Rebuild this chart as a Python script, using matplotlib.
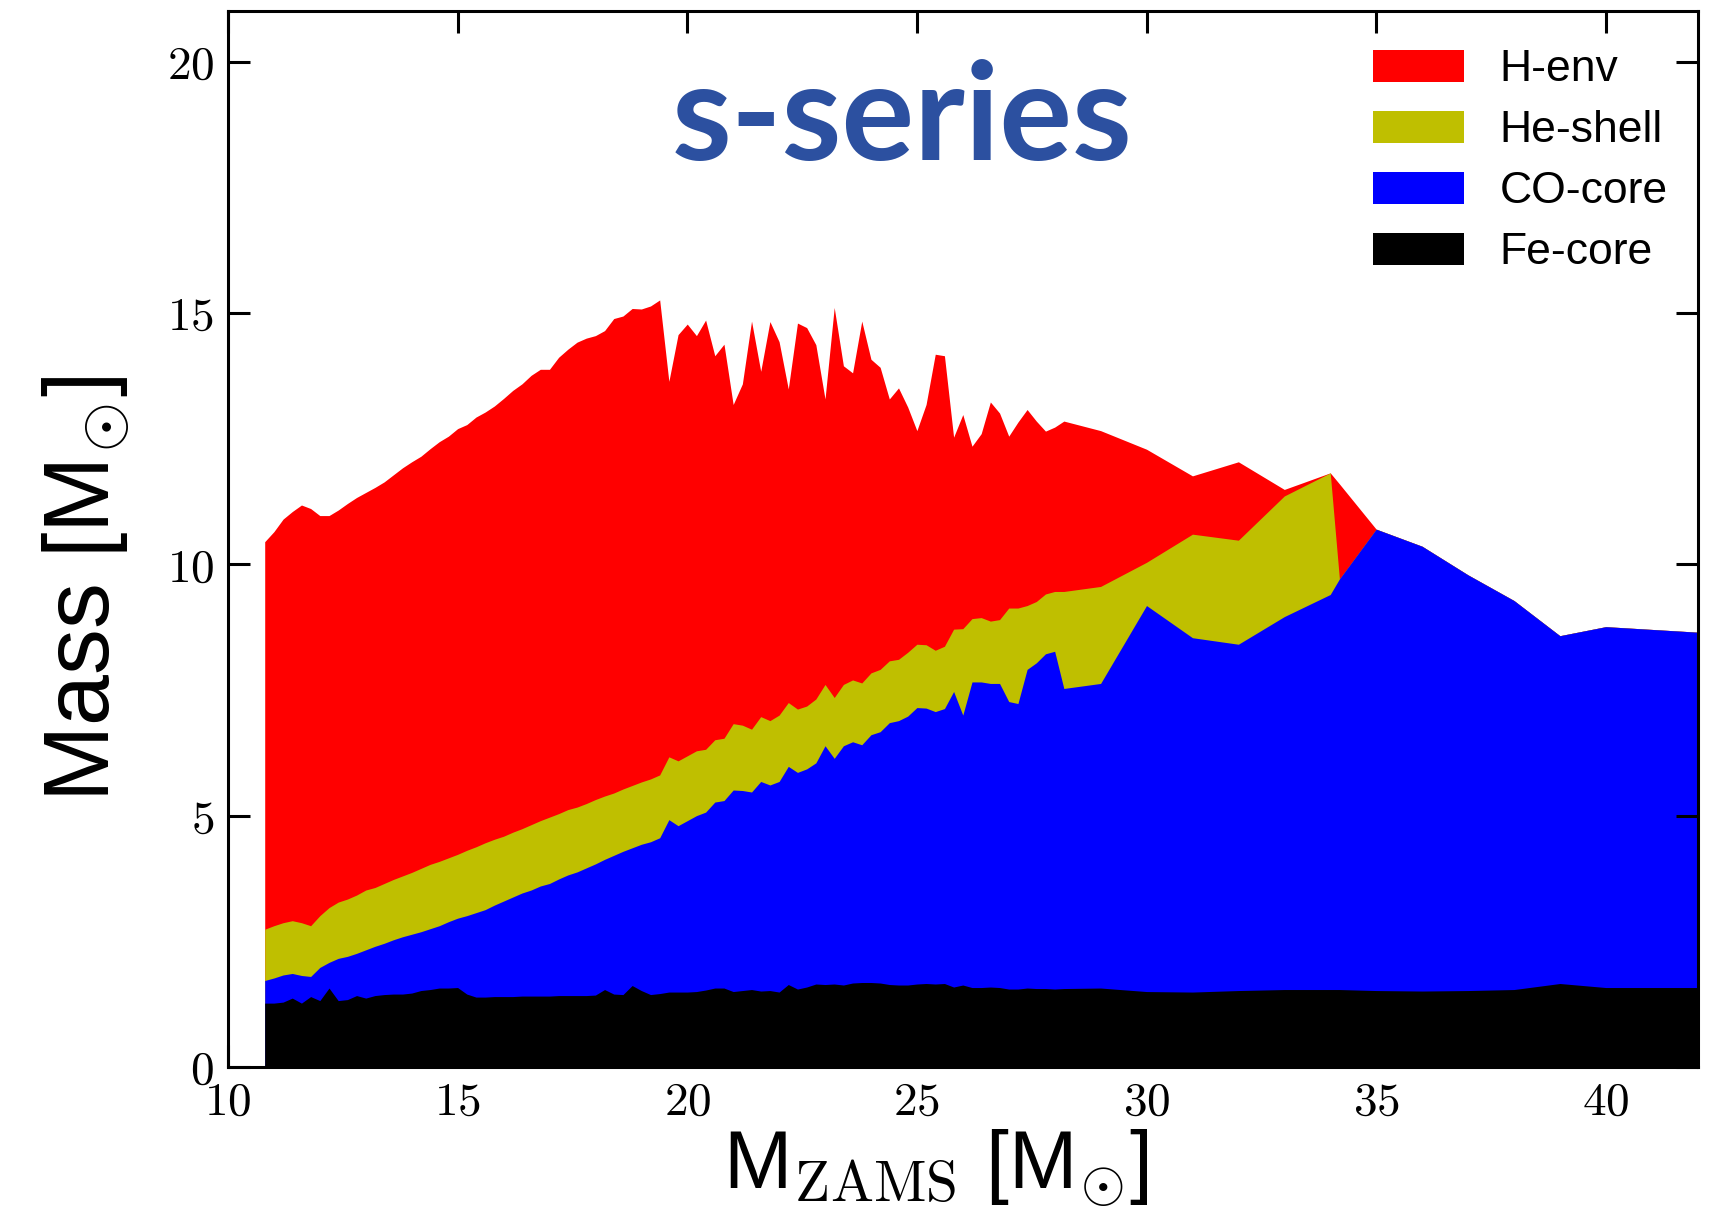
import numpy as np
import matplotlib
matplotlib.use('Agg')
import matplotlib.pyplot as plt

plt.rcParams['mathtext.fontset'] = 'cm'
plt.rcParams['font.family'] = ['Liberation Sans', 'DejaVu Sans']

# progenitor ZAMS masses of the s-series models
m_zams = [10.8, 11.0, 11.2, 11.4, 11.6, 11.8, 12.0, 12.2, 12.4, 12.6,
          12.8, 13.0, 13.2, 13.4, 13.6, 13.8, 14.0, 14.2, 14.4, 14.6,
          14.8, 15.0, 15.2, 15.4, 15.6, 15.8, 16.0, 16.2, 16.4, 16.6,
          16.8, 17.0, 17.2, 17.4, 17.6, 17.8, 18.0, 18.2, 18.4, 18.6,
          18.8, 19.0, 19.2, 19.4, 19.6, 19.8, 20.0, 20.2, 20.4, 20.6,
          20.8, 21.0, 21.2, 21.4, 21.6, 21.8, 22.0, 22.2, 22.4, 22.6,
          22.8, 23.0, 23.2, 23.4, 23.6, 23.8, 24.0, 24.2, 24.4, 24.6,
          24.8, 25.0, 25.2, 25.4, 25.6, 25.8, 26.0, 26.2, 26.4, 26.6,
          26.8, 27.0, 27.2, 27.4, 27.6, 27.8, 28.0, 28.2,
          29.0, 30.0, 31.0, 32.0, 33.0, 34.0, 34.2, 35.0, 36.0, 37.0,
          38.0, 39.0, 40.0, 42.0]

# pre-supernova total mass (H envelope on top)
m_total = [10.45, 10.65, 10.90, 11.05, 11.18, 11.11, 10.97, 10.97, 11.08, 11.21,
           11.33, 11.43, 11.53, 11.64, 11.78, 11.92, 12.04, 12.15, 12.30, 12.44,
           12.55, 12.70, 12.78, 12.93, 13.03, 13.15, 13.30, 13.46, 13.59, 13.76,
           13.88, 13.88, 14.12, 14.28, 14.42, 14.50, 14.55, 14.65, 14.89, 14.94,
           15.09, 15.08, 15.14, 15.26, 13.64, 14.57, 14.78, 14.55, 14.86, 14.15,
           14.38, 13.18, 13.59, 14.84, 13.84, 14.83, 14.43, 13.49, 14.80, 14.71,
           14.37, 13.29, 15.11, 13.95, 13.81, 14.84, 14.08, 13.92, 13.29, 13.51,
           13.13, 12.66, 13.18, 14.18, 14.15, 12.53, 12.98, 12.35, 12.60, 13.23,
           13.01, 12.55, 12.83, 13.08, 12.85, 12.65, 12.73, 12.85,
           12.66, 12.29, 11.76, 12.04, 11.49, 11.82, 11.60, 10.70, 10.36, 9.79,
           9.28, 8.58, 8.76, 8.65]

# helium core mass
m_he = [2.74, 2.81, 2.87, 2.91, 2.87, 2.81, 3.01, 3.17, 3.28, 3.34,
        3.42, 3.52, 3.57, 3.65, 3.73, 3.80, 3.87, 3.95, 4.03, 4.09,
        4.16, 4.23, 4.31, 4.38, 4.46, 4.53, 4.59, 4.67, 4.74, 4.82,
        4.90, 4.97, 5.04, 5.12, 5.17, 5.24, 5.32, 5.39, 5.45, 5.53,
        5.60, 5.67, 5.73, 5.81, 6.17, 6.09, 6.19, 6.29, 6.32, 6.51,
        6.54, 6.83, 6.80, 6.72, 6.97, 6.89, 7.00, 7.25, 7.12, 7.18,
        7.32, 7.61, 7.35, 7.61, 7.70, 7.64, 7.84, 7.91, 8.08, 8.11,
        8.25, 8.41, 8.40, 8.29, 8.37, 8.71, 8.72, 8.92, 8.94, 8.87,
        8.90, 9.13, 9.13, 9.18, 9.26, 9.41, 9.46, 9.46,
        9.56, 10.04, 10.60, 10.48, 11.36, 11.82, 9.71, 10.70, 10.36, 9.79,
        9.28, 8.58, 8.76, 8.65]

# carbon-oxygen core mass
m_co = [1.72, 1.77, 1.83, 1.86, 1.82, 1.80, 1.98, 2.08, 2.16, 2.20,
        2.26, 2.33, 2.40, 2.46, 2.53, 2.59, 2.64, 2.69, 2.75, 2.81,
        2.89, 2.96, 3.01, 3.07, 3.13, 3.22, 3.30, 3.38, 3.46, 3.52,
        3.60, 3.65, 3.74, 3.82, 3.88, 3.96, 4.04, 4.13, 4.21, 4.29,
        4.36, 4.43, 4.48, 4.56, 4.92, 4.80, 4.90, 5.00, 5.07, 5.27,
        5.30, 5.51, 5.50, 5.47, 5.68, 5.61, 5.68, 5.98, 5.86, 5.93,
        6.05, 6.39, 6.14, 6.39, 6.47, 6.41, 6.61, 6.67, 6.85, 6.89,
        6.98, 7.15, 7.14, 7.07, 7.13, 7.47, 7.00, 7.66, 7.66, 7.63,
        7.63, 7.27, 7.23, 7.91, 8.04, 8.22, 8.27, 7.53,
        7.63, 9.18, 8.54, 8.41, 8.96, 9.40, 9.71, 10.70, 10.36, 9.79,
        9.28, 8.58, 8.76, 8.65]

# iron core mass
m_fe = [1.27, 1.27, 1.29, 1.37, 1.27, 1.40, 1.32, 1.57, 1.32, 1.34,
        1.42, 1.37, 1.42, 1.44, 1.45, 1.45, 1.47, 1.52, 1.54, 1.57,
        1.57, 1.58, 1.45, 1.39, 1.39, 1.40, 1.40, 1.40, 1.41, 1.41,
        1.41, 1.41, 1.42, 1.42, 1.42, 1.42, 1.43, 1.54, 1.45, 1.44,
        1.62, 1.52, 1.44, 1.46, 1.49, 1.49, 1.49, 1.50, 1.53, 1.57,
        1.57, 1.50, 1.52, 1.54, 1.51, 1.52, 1.49, 1.64, 1.55, 1.59,
        1.65, 1.64, 1.65, 1.63, 1.67, 1.68, 1.68, 1.67, 1.64, 1.63,
        1.63, 1.65, 1.66, 1.65, 1.66, 1.59, 1.63, 1.58, 1.58, 1.59,
        1.58, 1.55, 1.55, 1.57, 1.56, 1.56, 1.55, 1.56,
        1.57, 1.50, 1.49, 1.52, 1.54, 1.54, 1.54, 1.52, 1.51, 1.52,
        1.54, 1.66, 1.58, 1.58]

layers = [('H-env', m_total, 'r'),
          ('He-shell', m_he, 'y'),
          ('CO-core', m_co, 'b'),
          ('Fe-core', m_fe, 'k')]

xticks = [10, 15, 20, 25, 30, 35, 40]
yticks = [0, 5, 10, 15, 20]

fig = plt.figure(figsize=(17.27, 12.17), dpi=100)
ax = fig.add_axes([0.132, 0.1233, 0.851, 0.8673])

x = np.array(m_zams)
for label, m, c in layers:
    ax.fill_between(x, 0, np.array(m), color=c, lw=0, label=label)

ax.set_xlim(10, 42)
ax.set_ylim(0, 21)
ax.set_xticks(xticks, labels=['$%d$' % t for t in xticks])
ax.set_yticks(yticks, labels=['$%d$' % t for t in yticks])
ax.tick_params(direction='in', length=16, width=2.2, top=True, right=True,
               labelsize=34, pad=10)
for s in ax.spines.values():
    s.set_linewidth(2.2)

ax.set_xlabel(r'M$_{\rm ZAMS}$ [M$_{\odot}$]', fontsize=59, va='center')
ax.xaxis.set_label_coords(0.482, -0.097)
ax.set_ylabel(r'Mass [M$_{\odot}$]', fontsize=66, va='center')
ax.yaxis.set_label_coords(-0.097, 0.453)

ax.text(0.459, 0.859, 's-series', transform=ax.transAxes, ha='center',
        va='baseline', fontsize=98, fontweight='bold', color='#2c50a0',
        family='Lato')

ax.legend(loc='upper left', bbox_to_anchor=(0.764, 0.985), frameon=False,
          fontsize=32, handlelength=2.05, handleheight=0.75,
          handletextpad=0.8, labelspacing=0.45, borderpad=0)

fig.savefig('out.png', dpi=100)
